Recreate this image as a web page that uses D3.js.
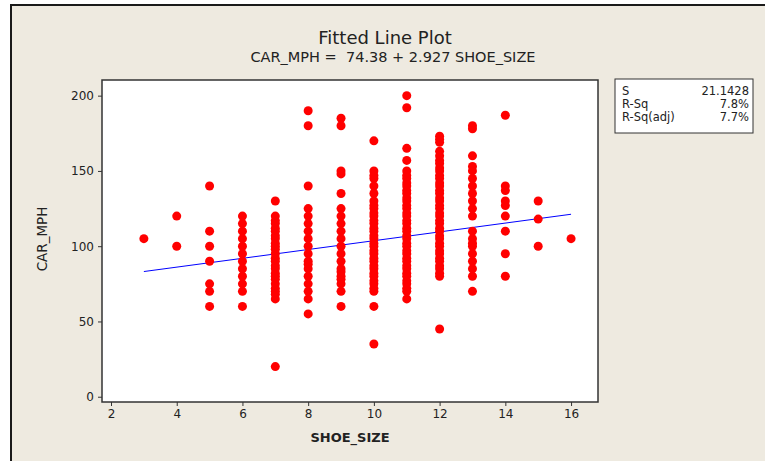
<!DOCTYPE html>
<html>
<head>
<meta charset="utf-8">
<title>Fitted Line Plot</title>
<script src="https://d3js.org/d3.v7.min.js"></script>
<style>
  body { margin: 0; background: #fff; }
  text { font-family: "DejaVu Sans", sans-serif; fill: #222; }
</style>
</head>
<body>
<svg width="765" height="461"></svg>
<script>
// CAR_MPH readings, one list per shoe size
var mph3  = [105];
var mph4  = [120, 100];
var mph5  = [140, 110, 100, 90, 75, 70, 60];
var mph6  = [120, 115, 110, 105, 100, 95, 90, 85, 80, 75, 70, 60];
var mph7  = [130, 120, 117, 115, 112, 110, 107, 105, 102, 100, 98, 95, 92, 90, 87, 85, 82, 80, 78, 75, 72, 70, 68, 65, 20];
var mph8  = [190, 180, 140, 125, 120, 115, 110, 105, 100, 95, 90, 88, 85, 80, 75, 70, 65, 55];
var mph9  = [185, 180, 150, 148, 135, 125, 120, 115, 110, 105, 100, 95, 90, 85, 83, 80, 78, 75, 70, 60];
var mph10 = [170, 150, 147, 145, 140, 135, 130, 127, 125, 122, 120, 117, 115, 112, 110, 107, 105, 102, 100, 97, 95, 92, 90, 87, 85, 82, 80, 77, 75, 72, 70, 60, 35];
var mph11 = [200, 192, 165, 157, 150, 147, 145, 142, 140, 137, 135, 132, 130, 127, 125, 122, 120, 117, 115, 112, 110, 107, 105, 102, 100, 97, 95, 92, 90, 87, 85, 82, 80, 77, 75, 72, 70, 65];
var mph12 = [173, 171, 169, 163, 160, 157, 155, 152, 150, 147, 145, 142, 140, 137, 135, 132, 130, 127, 125, 122, 120, 117, 115, 112, 110, 107, 105, 102, 100, 97, 95, 92, 90, 87, 85, 82, 80, 45];
var mph13 = [180, 178, 160, 153, 150, 145, 140, 135, 130, 125, 120, 110, 105, 102, 100, 95, 90, 85, 80, 70];
var mph14 = [187, 140, 137, 130, 127, 120, 110, 95, 80];
var mph15 = [130, 118, 100];
var mph16 = [105];

var shoeSizes = [3, 4, 5, 6, 7, 8, 9, 10, 11, 12, 13, 14, 15, 16];
var mphLists = [mph3, mph4, mph5, mph6, mph7, mph8, mph9, mph10, mph11, mph12, mph13, mph14, mph15, mph16];

var xTicks = [2, 4, 6, 8, 10, 12, 14, 16];
var yTicks = [0, 50, 100, 150, 200];

var intercept = 74.38, slope = 2.927;
var statLabels = ["S", "R-Sq", "R-Sq(adj)"];
var statValues = ["21.1428", "7.8%", "7.7%"];

var points = [];
shoeSizes.forEach(function(s, i) {
  mphLists[i].forEach(function(v) { points.push({ x: s, y: v }); });
});

var svg = d3.select("svg");

// window frame
svg.append("rect")
  .attr("x", 11).attr("y", 5)
  .attr("width", 800).attr("height", 500)
  .attr("fill", "#eeeae0")
  .attr("stroke", "#1a1a1a")
  .attr("stroke-width", 2);

var plotL = 102, plotR = 598, plotT = 80, plotB = 402;

var x = d3.scaleLinear().domain([1.726, 16.82]).range([plotL, plotR]);
var y = d3.scaleLinear().domain([-3.5, 210.4]).range([plotB, plotT]);

svg.append("rect")
  .attr("x", plotL).attr("y", plotT)
  .attr("width", plotR - plotL).attr("height", plotB - plotT)
  .attr("fill", "#fff");

// axes
var xAxis = svg.append("g")
  .attr("transform", "translate(0," + plotB + ")")
  .call(d3.axisBottom(x).tickValues(xTicks).tickSize(4).tickPadding(3));
var yAxis = svg.append("g")
  .attr("transform", "translate(" + plotL + ",0)")
  .call(d3.axisLeft(y).tickValues(yTicks).tickSize(4).tickPadding(4));

[xAxis, yAxis].forEach(function(g) {
  g.select(".domain").remove();
  g.selectAll("line").attr("stroke", "#333");
  g.selectAll("text").style("font-size", "12px").attr("fill", "#333");
});

svg.append("rect")
  .attr("x", plotL).attr("y", plotT)
  .attr("width", plotR - plotL).attr("height", plotB - plotT)
  .attr("fill", "none")
  .attr("stroke", "#333")
  .attr("stroke-width", 1.5);

// fitted line
svg.append("line")
  .attr("x1", x(3)).attr("y1", y(intercept + slope * 3))
  .attr("x2", x(16)).attr("y2", y(intercept + slope * 16))
  .attr("stroke", "#0000ff")
  .attr("stroke-width", 1);

svg.append("g").selectAll("circle")
  .data(points)
  .enter()
  .append("circle")
  .attr("cx", function(d) { return x(d.x); })
  .attr("cy", function(d) { return y(d.y); })
  .attr("r", 4.5)
  .attr("fill", "#ff0000");

// titles
svg.append("text")
  .attr("x", 385).attr("y", 44)
  .attr("text-anchor", "middle")
  .style("font-size", "18px")
  .text("Fitted Line Plot");
svg.append("text")
  .attr("x", 393).attr("y", 62)
  .attr("text-anchor", "middle")
  .style("font-size", "14.5px")
  .attr("xml:space", "preserve")
  .text("CAR_MPH =  74.38 + 2.927 SHOE_SIZE");

svg.append("text")
  .attr("x", (plotL + plotR) / 2).attr("y", 442)
  .attr("text-anchor", "middle")
  .style("font-size", "13px")
  .style("font-weight", "bold")
  .text("SHOE_SIZE");
svg.append("text")
  .attr("transform", "translate(47," + 239 + ") rotate(-90)")
  .attr("text-anchor", "middle")
  .style("font-size", "13.5px")
  .text("CAR_MPH");

// stats box
var box = svg.append("g");
box.append("rect")
  .attr("x", 615).attr("y", 79)
  .attr("width", 138).attr("height", 54)
  .attr("fill", "#fff")
  .attr("stroke", "#333");
statLabels.forEach(function(l, i) {
  box.append("text")
    .attr("x", 622).attr("y", 95 + i * 13)
    .style("font-size", "11.5px")
    .text(l);
  box.append("text")
    .attr("x", 749).attr("y", 95 + i * 13)
    .attr("text-anchor", "end")
    .style("font-size", "11.5px")
    .text(statValues[i]);
});
</script>
</body>
</html>
